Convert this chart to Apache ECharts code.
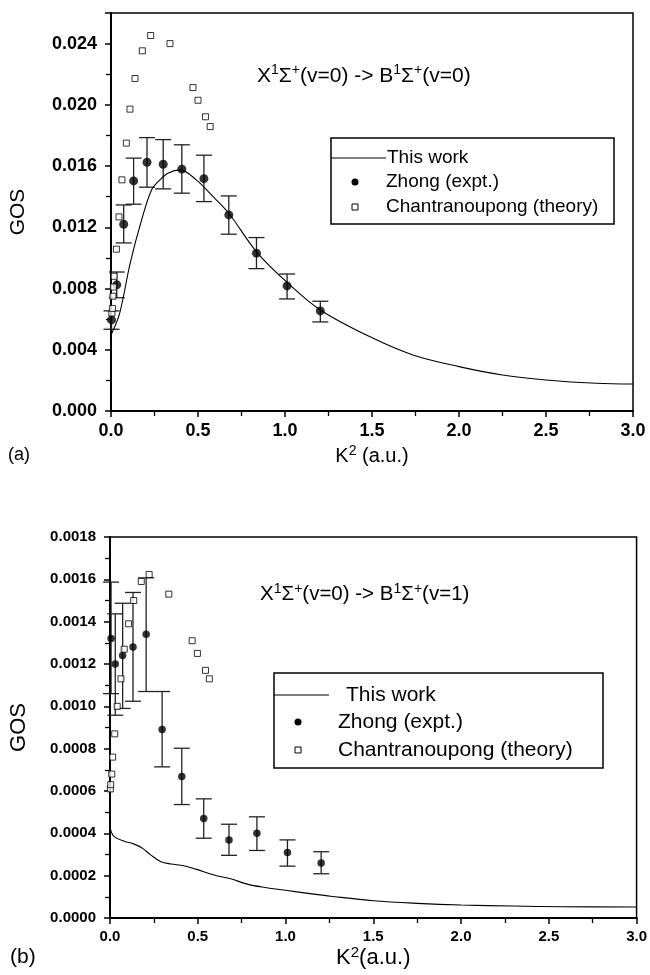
<!DOCTYPE html>
<html>
<head>
<meta charset="utf-8">
<title>GOS</title>
<script src="https://cdn.jsdelivr.net/npm/echarts@6/dist/echarts.min.js"></script>
<style>
html,body{margin:0;padding:0;background:#fff;}
#main{width:650px;height:975px;}
</style>
</head>
<body>
<div id="main"></div>
<script>
// (a) v=0 -> v=0
var topLineK   = [0, 0.05, 0.11, 0.176, 0.233, 0.281, 0.33, 0.396, 0.49, 0.587, 0.677, 0.836, 1.012, 1.203, 1.486, 1.735, 2.0, 2.25, 2.5, 2.79, 3.0];
var topLineGos = [0.00497, 0.0064, 0.00965, 0.01248, 0.01444, 0.0151, 0.01555, 0.01575, 0.0151, 0.014, 0.01292, 0.0104, 0.0084, 0.0066, 0.00486, 0.00366, 0.0029, 0.00235, 0.00203, 0.00181, 0.00176];
var topExpK    = [0.003, 0.033, 0.073, 0.13, 0.207, 0.30, 0.407, 0.534, 0.677, 0.836, 1.012, 1.203];
var topExpGos  = [0.00595, 0.00824, 0.0122, 0.01503, 0.01625, 0.01612, 0.0158, 0.01518, 0.01281, 0.01031, 0.00817, 0.00654];
var topExpLow  = [0.00534, 0.0074, 0.01098, 0.01351, 0.01462, 0.01451, 0.01423, 0.01368, 0.01155, 0.0093, 0.00732, 0.00582];
var topExpHigh = [0.00654, 0.00908, 0.01346, 0.01652, 0.01786, 0.01773, 0.01739, 0.01671, 0.01405, 0.01133, 0.00895, 0.00717];
var topThK     = [0.005, 0.008, 0.011, 0.014, 0.018, 0.031, 0.046, 0.063, 0.088, 0.109, 0.138, 0.18, 0.228, 0.339, 0.471, 0.50, 0.543, 0.57];
var topThGos   = [0.0064, 0.0067, 0.0075, 0.0081, 0.0088, 0.01057, 0.01268, 0.0151, 0.0175, 0.01972, 0.02172, 0.02353, 0.02453, 0.0240, 0.02113, 0.0203, 0.01922, 0.01858];

// (b) v=0 -> v=1
var botLineK   = [0, 0.024, 0.081, 0.138, 0.186, 0.233, 0.29, 0.347, 0.42, 0.489, 0.593, 0.688, 0.782, 0.877, 0.99, 1.16, 1.256, 1.5, 1.75, 2.0, 2.3, 2.58, 3.0];
var botLineGos = [0.000426, 0.000384, 0.000363, 0.000349, 0.000329, 0.000297, 0.000266, 0.000255, 0.000247, 0.000231, 0.000203, 0.000185, 0.00016, 0.000145, 0.000132, 0.000113, 0.000103, 0.0000816, 0.0000693, 0.0000613, 0.0000566, 0.0000533, 0.000052];
var botExpK    = [0.006, 0.03, 0.072, 0.131, 0.206, 0.297, 0.409, 0.534, 0.678, 0.837, 1.011, 1.203];
var botExpGos  = [0.00132, 0.0012, 0.00124, 0.00128, 0.00134, 0.00089, 0.000668, 0.00047, 0.000368, 0.0004, 0.00031, 0.00026];
var botExpLow  = [0.00106, 0.000958, 0.00099, 0.001024, 0.00107, 0.000714, 0.000536, 0.000377, 0.000296, 0.000319, 0.000245, 0.000209];
var botExpHigh = [0.001587, 0.001437, 0.001487, 0.001538, 0.001607, 0.00107, 0.000802, 0.000563, 0.000443, 0.000478, 0.000369, 0.000313];
var botThK     = [0.002, 0.004, 0.01, 0.015, 0.027, 0.041, 0.0625, 0.081, 0.106, 0.135, 0.178, 0.223, 0.335, 0.468, 0.498, 0.544, 0.566];
var botThGos   = [0.00061, 0.00063, 0.00068, 0.00076, 0.00087, 0.001, 0.00113, 0.00127, 0.00139, 0.0015, 0.00159, 0.001623, 0.00153, 0.00131, 0.00125, 0.00117, 0.00113];

var xTicks = [0, 3, 0.5];
var topYTicks = [0, 0.026, 0.004];
var botYTicks = [0, 0.0018, 0.0002];

var FONT = 'Liberation Sans';

function pairs(xs, ys){
    var out = [];
    for(var i = 0; i < xs.length; i++){ out.push([xs[i], ys[i]]); }
    return out;
}
function bars(xs, lo, hi){
    var out = [];
    for(var i = 0; i < xs.length; i++){ out.push([xs[i], lo[i], hi[i]]); }
    return out;
}
// normal + superscript rich styles
function supRich(fs){
    return {
        n:{fontFamily:FONT, fontSize:fs, color:'#000', lineHeight:fs + 4},
        s:{fontFamily:FONT, fontSize:Math.round(fs * 0.68), color:'#000', verticalAlign:'top', lineHeight:fs + 4}
    };
}

// error bar: vertical line + caps
function errRender(params, api){
    var x = api.value(0);
    var top = api.coord([x, api.value(2)]);
    var bot = api.coord([x, api.value(1)]);
    var w = 8;
    var st = {stroke:'#222', lineWidth:1.3};
    return {type:'group', children:[
        {type:'line', shape:{x1:top[0], y1:top[1], x2:bot[0], y2:bot[1]}, style:st},
        {type:'line', shape:{x1:top[0]-w, y1:top[1], x2:top[0]+w, y2:top[1]}, style:st},
        {type:'line', shape:{x1:bot[0]-w, y1:bot[1], x2:bot[0]+w, y2:bot[1]}, style:st}
    ]};
}

function xAxisOf(idx, fs, gap, name, nfs){
    return {
        type:'value', gridIndex:idx, min:xTicks[0], max:xTicks[1], interval:xTicks[2],
        name:name, nameLocation:'middle', nameGap:gap,
        nameTextStyle:{rich:supRich(nfs)},
        axisLine:{lineStyle:{color:'#000', width:2}},
        axisTick:{length:6, lineStyle:{color:'#000', width:1.5}},
        minorTick:{show:true, splitNumber:2, length:5, lineStyle:{color:'#000', width:1.3}},
        splitLine:{show:false},
        axisLabel:{fontFamily:FONT, fontSize:fs, fontWeight:'bold', color:'#000', margin:11,
            formatter:function(v){ return v.toFixed(1); }}
    };
}

function yAxisOf(idx, ticks, fs, dec, gap, nfs, margin){
    return {
        type:'value', gridIndex:idx, min:ticks[0], max:ticks[1], interval:ticks[2],
        name:'GOS', nameLocation:'middle', nameGap:gap,
        nameTextStyle:{fontFamily:FONT, fontSize:nfs, color:'#000'},
        axisLine:{lineStyle:{color:'#000', width:2}},
        axisTick:{length:6, lineStyle:{color:'#000', width:1.5}},
        minorTick:{show:true, splitNumber:2, length:5, lineStyle:{color:'#000', width:1.3}},
        splitLine:{show:false},
        axisLabel:{fontFamily:FONT, fontSize:fs, fontWeight:'bold', color:'#000', margin:margin,
            showMaxLabel: Math.abs(Math.round(ticks[1] / ticks[2]) - ticks[1] / ticks[2]) < 1e-6,
            formatter:function(v){ return v.toFixed(dec); }}
    };
}

function legendBox(x, y, w, h, fs, rows){
    var g = [{type:'rect', shape:{x:x, y:y, width:w, height:h}, style:{fill:'none', stroke:'#000', lineWidth:1.5}}];
    g.push({type:'line', shape:{x1:x, y1:rows[0], x2:x + 55, y2:rows[0]}, style:{stroke:'#000', lineWidth:1}});
    g.push({type:'circle', shape:{cx:x + 24, cy:rows[1], r:3.5}, style:{fill:'#000'}});
    g.push({type:'rect', shape:{x:x + 21, y:rows[2] - 3, width:6, height:6}, style:{fill:'#fff', stroke:'#000', lineWidth:1}});
    var names = ['This work', 'Zhong (expt.)', 'Chantranoupong (theory)'];
    for(var i = 0; i < 3; i++){
        g.push({type:'text', x:x + rows[3] + (i == 0 ? rows[4] : 0), y:rows[i],
            style:{text:names[i], font:fs + 'px ' + FONT, fill:'#000', textVerticalAlign:'middle'}});
    }
    return g;
}

function titleText(x, y, v2, fs){
    return {type:'text', x:x, y:y, style:{
        text:'{n|X}{s|1}{n|Σ}{s|+}{n|(v=0) -> B}{s|1}{n|Σ}{s|+}{n|(v=' + v2 + ')}',
        rich:supRich(fs), textVerticalAlign:'middle'}};
}

var chart = echarts.init(document.getElementById('main'));
var option = {
    animation:false,
    backgroundColor:'#fff',
    grid:[
        {left:111, right:17, top:13, height:398, show:true, borderColor:'#000', borderWidth:1.5, backgroundColor:'transparent'},
        {left:109, right:13, top:537, height:381, show:true, borderColor:'#000', borderWidth:1.5, backgroundColor:'transparent'}
    ],
    xAxis:[
        xAxisOf(0, 18, 33, '{n|K}{s|2}{n| (a.u.)}', 20),
        xAxisOf(1, 15, 23, '{n|K}{s|2}{n|(a.u.)}', 22)
    ],
    yAxis:[
        yAxisOf(0, topYTicks, 18, 3, 82, 21, 14),
        yAxisOf(1, botYTicks, 15, 4, 80, 22, 14)
    ],
    graphic:[].concat(
        legendBox(331, 138, 283, 86, 19, [158, 182, 207, 55, 1]),
        legendBox(274, 673, 329, 95, 21, [695, 722, 750, 64, 8]),
        [
            titleText(257, 76, 0, 21),
            titleText(260, 594, 1, 20.5),
            {type:'text', x:8, y:455, style:{text:'(a)', font:'18px ' + FONT, fill:'#000', textVerticalAlign:'middle'}},
            {type:'text', x:10, y:957, style:{text:'(b)', font:'21px ' + FONT, fill:'#000', textVerticalAlign:'middle'}}
        ]
    ),
    series:[
        {name:'This work', type:'line', xAxisIndex:0, yAxisIndex:0, data:pairs(topLineK, topLineGos),
            showSymbol:false, smooth:0.35, lineStyle:{color:'#000', width:1.1}},
        {name:'err a', type:'custom', xAxisIndex:0, yAxisIndex:0, data:bars(topExpK, topExpLow, topExpHigh),
            renderItem:errRender, encode:{x:0, y:[1, 2]}},
        {name:'Zhong (expt.)', type:'scatter', xAxisIndex:0, yAxisIndex:0, data:pairs(topExpK, topExpGos),
            symbol:'circle', symbolSize:9, itemStyle:{color:'#000'}},
        {name:'Chantranoupong (theory)', type:'scatter', xAxisIndex:0, yAxisIndex:0, data:pairs(topThK, topThGos),
            symbol:'rect', symbolSize:6, itemStyle:{color:'#fff', borderColor:'#000', borderWidth:1}},

        {name:'This work', type:'line', xAxisIndex:1, yAxisIndex:1, data:pairs(botLineK, botLineGos),
            showSymbol:false, smooth:0.35, lineStyle:{color:'#000', width:1.1}},
        {name:'err b', type:'custom', xAxisIndex:1, yAxisIndex:1, data:bars(botExpK, botExpLow, botExpHigh),
            renderItem:errRender, encode:{x:0, y:[1, 2]}},
        {name:'Zhong (expt.)', type:'scatter', xAxisIndex:1, yAxisIndex:1, data:pairs(botExpK, botExpGos),
            symbol:'circle', symbolSize:7.5, itemStyle:{color:'#000'}},
        {name:'Chantranoupong (theory)', type:'scatter', xAxisIndex:1, yAxisIndex:1, data:pairs(botThK, botThGos),
            symbol:'rect', symbolSize:6, itemStyle:{color:'#fff', borderColor:'#000', borderWidth:1}}
    ]
};
chart.setOption(option);
</script>
</body>
</html>
